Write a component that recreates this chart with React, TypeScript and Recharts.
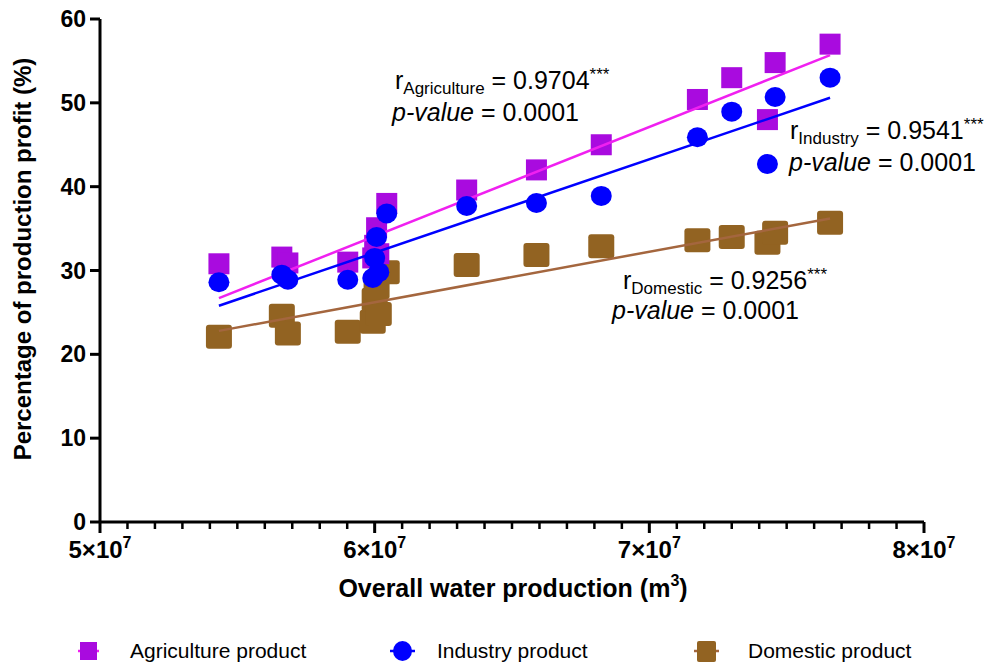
import React from 'react';
import { ScatterChart, Scatter, XAxis, YAxis } from 'recharts';

// Overall water production (m3) for each observation
const waterProduction = [
  5.433e7, 5.662e7, 5.684e7, 5.902e7, 5.993e7, 6.0e7, 6.007e7, 6.015e7, 6.044e7,
  6.335e7, 6.589e7, 6.825e7, 7.175e7, 7.3e7, 7.43e7, 7.458e7, 7.658e7,
];
const agricultureProfit = [30.8, 31.6, 30.9, 31.0, 31.5, 33.0, 35.1, 32.0, 38.0, 39.6, 42.0, 45.0, 50.4, 53.0, 48.0, 54.8, 57.0];
const industryProfit = [28.6, 29.5, 28.9, 28.9, 29.1, 31.5, 34.0, 29.8, 36.8, 37.7, 38.05, 38.9, 45.9, 48.95, 42.7, 50.7, 53.0];
const domesticProfit = [22.1, 24.6, 22.5, 22.7, 23.9, 26.5, 28.0, 24.8, 29.8, 30.65, 31.85, 32.9, 33.6, 34.0, 33.3, 34.5, 35.7];

// Regression line end points (x from first to last observation)
const fitX = [5.433e7, 7.658e7];
const agricultureFit = [26.7, 55.7];
const industryFit = [25.8, 50.6];
const domesticFit = [22.8, 36.2];

const yTicks = [0, 10, 20, 30, 40, 50, 60];
const xMajorTicks = [5e7, 6e7, 7e7, 8e7];
const xMinorStep = 1e6;

const legendLabels = ['Agriculture product', 'Industry product', 'Domestic product'];

const toPoints = (xs: number[], ys: number[]) => xs.map((x, i) => ({ x, y: ys[i] }));

const agriData = toPoints(waterProduction, agricultureProfit);
const indData = toPoints(waterProduction, industryProfit);
const domData = toPoints(waterProduction, domesticProfit);
const agriFitData = toPoints(fitX, agricultureFit);
const indFitData = toPoints(fitX, industryFit);
const domFitData = toPoints(fitX, domesticFit);

const allXTicks: number[] = [];
for (let v = xMajorTicks[0]; v <= xMajorTicks[xMajorTicks.length - 1] + 1; v += xMinorStep) allXTicks.push(v);

const FONT = '"Liberation Sans", Arial, Helvetica, sans-serif';
const PURPLE = '#A90BDF';
const MAGENTA = '#F020F0';
const BLUE = '#0000FF';
const BROWN = '#926322';
const BROWN_LINE = '#A4663E';

const SquareShape = (props: any) => {
  const { cx, cy } = props;
  if (cx == null || cy == null) return <g />;
  return <rect x={cx - 10.5} y={cy - 10.5} width={21} height={21} fill={PURPLE} />;
};
const CircleShape = (props: any) => {
  const { cx, cy } = props;
  if (cx == null || cy == null) return <g />;
  return <ellipse cx={cx} cy={cy} rx={10.5} ry={10} fill={BLUE} />;
};
const BrownShape = (props: any) => {
  const { cx, cy } = props;
  if (cx == null || cy == null) return <g />;
  return <rect x={cx - 13} y={cy - 12} width={26} height={24} rx={3} ry={3} fill={BROWN} />;
};
const NoShape = () => <g />;

const XTick = (props: any) => {
  const { x, y, payload } = props;
  const v = payload.value as number;
  const major = Math.round(v / xMinorStep) % 10 === 0;
  return (
    <g>
      <line x1={x} x2={x} y1={y} y2={y + (major ? 11 : 7)} stroke="#000" strokeWidth={major ? 3 : 2.5} />
      {major && (
        <text x={x} y={y + 36} textAnchor="middle" fontFamily={FONT} fontWeight="bold" fontSize={24} fill="#000">
          {Math.round(v / 1e7)}×10
          <tspan fontSize={16} dy={-10}>7</tspan>
        </text>
      )}
    </g>
  );
};

const YTick = (props: any) => {
  const { x, y, payload } = props;
  return (
    <text x={x} y={y + 8} textAnchor="end" fontFamily={FONT} fontWeight="bold" fontSize={23} fill="#000">
      {payload.value}
    </text>
  );
};

const Annotation = ({ x, px, y, name, r, gap }: { x: number; px: number; y: number; name: string; r: string; gap: number }) => (
  <g fontFamily={FONT} fill="#000">
    <text x={x} y={y} fontSize={25}>
      r<tspan fontSize={17} dy={5}>{name}</tspan>
      <tspan dy={-5}> = {r}</tspan>
      <tspan fontSize={17} dy={-9}>***</tspan>
    </text>
    <text x={px} y={y + gap} fontSize={25}>
      <tspan fontStyle="italic">p-value</tspan> = 0.0001
    </text>
  </g>
);

export default function App() {
  return (
    <div style={{ position: 'absolute', left: 0, top: 0, width: 997, height: 666, background: '#fff' }}>
      <ScatterChart width={997} height={666} margin={{ top: 19, right: 73, bottom: 0, left: 0 }}>
        <XAxis
          type="number"
          dataKey="x"
          domain={[xMajorTicks[0], xMajorTicks[xMajorTicks.length - 1]]}
          ticks={allXTicks}
          interval={0}
          tickSize={0}
          tickMargin={0}
          tickLine={false}
          tick={<XTick />}
          axisLine={{ stroke: '#000', strokeWidth: 3 }}
          height={144}
          allowDataOverflow
        />
        <YAxis
          type="number"
          dataKey="y"
          domain={[0, 60]}
          ticks={yTicks}
          interval={0}
          width={100}
          tickSize={10}
          tickMargin={4}
          tick={<YTick />}
          tickLine={{ stroke: '#000', strokeWidth: 3 }}
          axisLine={{ stroke: '#000', strokeWidth: 3 }}
        />
        <Scatter data={domData} shape={BrownShape} isAnimationActive={false} />
        <Scatter data={domFitData} shape={NoShape} line={{ stroke: BROWN_LINE, strokeWidth: 2.5 }} isAnimationActive={false} />
        <Scatter data={agriData} shape={SquareShape} isAnimationActive={false} />
        <Scatter data={agriFitData} shape={NoShape} line={{ stroke: MAGENTA, strokeWidth: 2.5 }} isAnimationActive={false} />
        <Scatter data={indData} shape={CircleShape} isAnimationActive={false} />
        <Scatter data={indFitData} shape={NoShape} line={{ stroke: BLUE, strokeWidth: 2.5 }} isAnimationActive={false} />
      </ScatterChart>
      <svg width={997} height={666} style={{ position: 'absolute', left: 0, top: 0, pointerEvents: 'none' }}>
        <Annotation x={395} px={392} y={89} name="Agriculture" r="0.9704" gap={32} />
        <Annotation x={790} px={789} y={139} name="Industry" r="0.9541" gap={32} />
        <Annotation x={623} px={612} y={289} name="Domestic" r="0.9256" gap={30} />
        <text
          x={513}
          y={597}
          textAnchor="middle"
          fontFamily={FONT}
          fontWeight="bold"
          fontSize={25}
          fill="#000"
        >
          Overall water production (m<tspan fontSize={16} dy={-11}>3</tspan>
          <tspan dy={11}>)</tspan>
        </text>
        <text
          transform="translate(31 259) rotate(-90)"
          textAnchor="middle"
          fontFamily={FONT}
          fontWeight="bold"
          fontSize={24}
          fill="#000"
        >
          Percentage of production profit (%)
        </text>
        {/* Legend */}
        <g fontFamily={FONT} fontSize={21} fill="#000">
          <line x1={78} x2={99} y1={651} y2={651} stroke={MAGENTA} strokeWidth={2.5} />
          <rect x={80} y={642} width={17} height={18} fill={PURPLE} />
          <text x={130} y={658}>{legendLabels[0]}</text>
          <line x1={390} x2={415} y1={651} y2={651} stroke={BLUE} strokeWidth={2.5} />
          <ellipse cx={402.5} cy={651} rx={9.5} ry={10} fill={BLUE} />
          <text x={437} y={658}>{legendLabels[1]}</text>
          <line x1={694} x2={719} y1={651} y2={651} stroke={BROWN_LINE} strokeWidth={2.5} />
          <rect x={697} y={641} width={19} height={21} rx={2} fill={BROWN} />
          <text x={748} y={658}>{legendLabels[2]}</text>
        </g>
      </svg>
    </div>
  );
}
